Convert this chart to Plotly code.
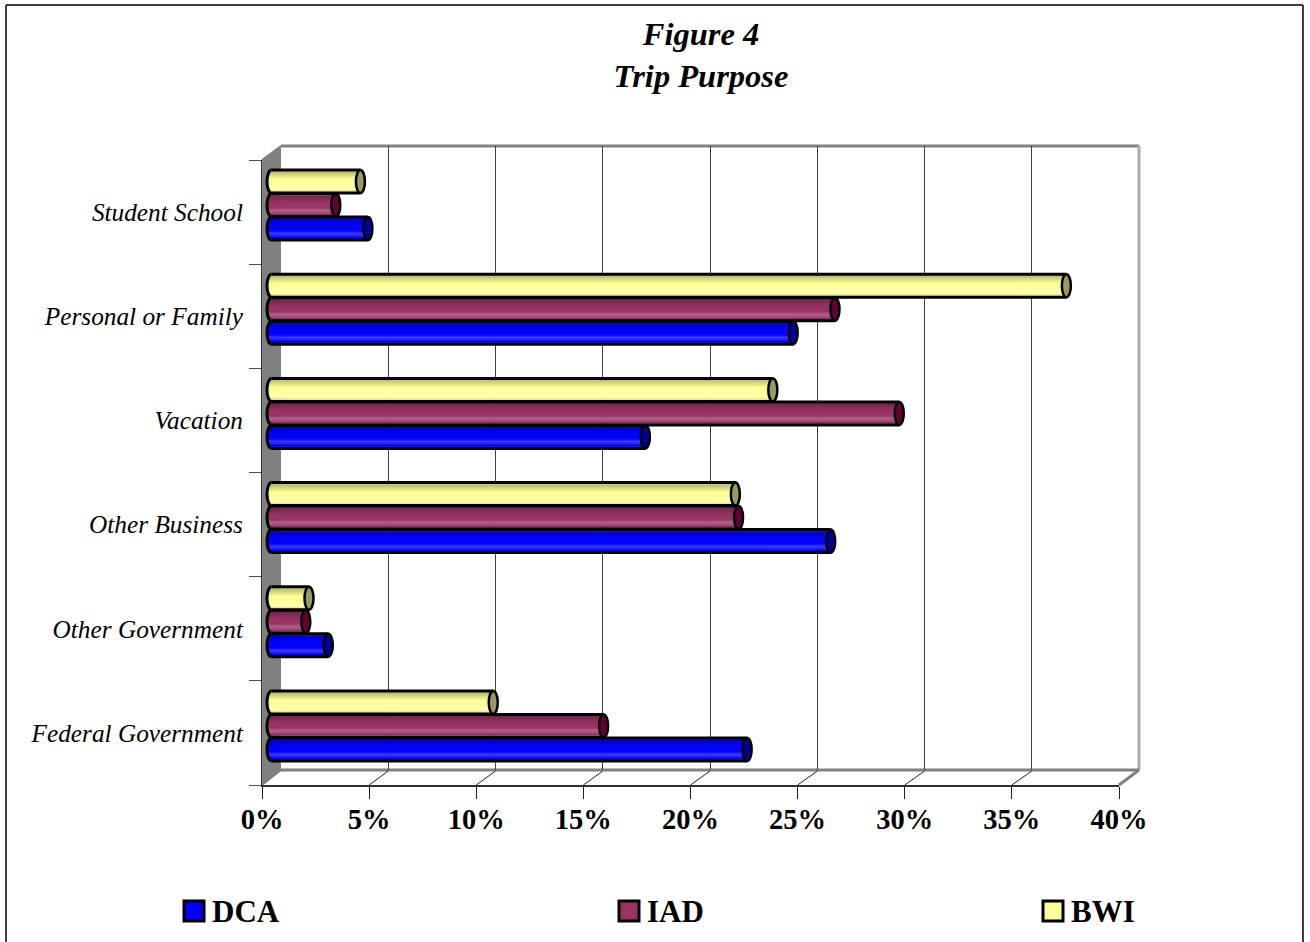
import math
import plotly.graph_objects as go

# Survey shares by airport, in percent
categories = ["Federal Government", "Other Government", "Other Business",
              "Vacation", "Personal or Family", "Student School"]
dca = [22.2, 2.65, 26.1, 17.45, 24.35, 4.5]
iad = [15.5, 1.6, 21.8, 29.3, 26.3, 3.0]
bwi = [10.35, 1.75, 21.65, 23.4, 37.1, 4.15]
x_ticks = [0, 5, 10, 15, 20, 25, 30, 35, 40]
x_tick_labels = ["0%", "5%", "10%", "15%", "20%", "25%", "30%", "35%", "40%"]

W, H = 1310, 942
SERIF = "Liberation Serif, Times New Roman, serif"

# Pixel frames of the pseudo-3D box: back wall, cylinder mid-plane, front edge
FRONT = dict(l=262, r=1119, t=160, b=785)
BACK = dict(l=281, r=1139, t=146, b=770)
MID = dict(l=271.5, r=1128.5, t=153, b=778)

PX_PER_PCT = (MID["r"] - MID["l"]) / 40
PX_PER_CAT = (MID["b"] - MID["t"]) / 6
CAP_RX = 4.5
CAP_RY = 13
OUTLINE = 3

# The cylinder axis runs a little past 0 and 40 so the rounded ends are not clipped
MID_PAD = 1.0
MID_WIDE = dict(l=MID["l"] - MID_PAD * PX_PER_PCT, r=MID["r"] + MID_PAD * PX_PER_PCT,
                t=MID["t"], b=MID["b"])


def fx(px):
    return px / W


def fy(px):
    return 1 - px / H


def dom_x(box):
    return [fx(box["l"]), fx(box["r"])]


def dom_y(box):
    return [fy(box["b"]), fy(box["t"])]


def mix(rgb, target, amount):
    return tuple(c + (t - c) * amount for c, t in zip(rgb, target))


def css(rgb):
    return "rgb(%d,%d,%d)" % tuple(round(c) for c in rgb)


def shade(rgb, t):
    """Cylinder lighting across the bar, t=0 at the top edge, t=1 at the bottom."""
    if t < 0.08:
        return mix(rgb, (0, 0, 0), 0.08)
    if t < 0.25:
        return mix(rgb, (255, 255, 255), 0.22 * t / 0.25)
    if t < 0.38:
        return mix(rgb, (255, 255, 255), 0.22 * (0.38 - t) / 0.13)
    if t < 0.6:
        return rgb
    return mix(rgb, (0, 0, 0), 0.28 * (t - 0.6) / 0.4)


series = [
    ("DCA", dca, (0, 0, 255), "#000099", -23.5),
    ("IAD", iad, (153, 51, 102), "#660033", 0.0),
    ("BWI", bwi, (255, 255, 153), "#999966", 23.5),
]

fig = go.Figure()

# Subplot xy holds the back wall grid so the cylinders paint over it
fig.add_trace(go.Scatter(x=[0], y=[categories[0]], xaxis="x", yaxis="y",
                         mode="markers", marker=dict(opacity=0),
                         hoverinfo="skip", showlegend=False))
fig.add_trace(go.Scatter(x=[0], y=[categories[0]], xaxis="x3", yaxis="y3",
                         mode="markers", marker=dict(opacity=0),
                         hoverinfo="skip", showlegend=False))

shapes = []

# Side wall, floor and back frame of the box
GREY = "#808080"
shapes.append(dict(type="path", xref="paper", yref="paper", layer="below",
                   path="M %f,%f L %f,%f L %f,%f L %f,%f Z" % (
                       fx(FRONT["l"]), fy(FRONT["t"]), fx(BACK["l"]), fy(BACK["t"]),
                       fx(BACK["l"]), fy(BACK["b"]), fx(FRONT["l"]), fy(FRONT["b"])),
                   fillcolor=GREY, line=dict(width=0)))


def paper_line(x0, y0, x1, y1, color, width, layer="below"):
    shapes.append(dict(type="line", xref="paper", yref="paper", layer=layer,
                       x0=fx(x0), y0=fy(y0), x1=fx(x1), y1=fy(y1),
                       line=dict(color=color, width=width)))


paper_line(BACK["l"], BACK["t"], BACK["r"], BACK["t"], GREY, 3)
paper_line(BACK["r"], BACK["t"], BACK["r"], BACK["b"], "#ABABAB", 3)
paper_line(BACK["l"], BACK["b"], BACK["r"], BACK["b"], GREY, 3)
paper_line(FRONT["l"], FRONT["t"], BACK["l"], BACK["t"], GREY, 2)
paper_line(FRONT["r"], FRONT["b"], BACK["r"], BACK["b"], GREY, 3)
paper_line(FRONT["l"], FRONT["b"], BACK["l"], BACK["b"], GREY, 2)
for tick in x_ticks[1:-1]:
    x_front = FRONT["l"] + (FRONT["r"] - FRONT["l"]) * tick / 40
    x_back = BACK["l"] + (BACK["r"] - BACK["l"]) * tick / 40
    paper_line(x_front, FRONT["b"], x_back, BACK["b"] + 1, "#202020", 1)

# Cylinders: thin overlaid bars give the lighting, ellipses close the ends
inner = CAP_RY - OUTLINE
rows = list(range(int(-inner), int(inner)))
for name, values, rgb, cap_color, offset_px in series:
    for row in rows:
        top_px = offset_px + row
        t = (row + inner) / (2 * inner)
        mid_row = (row + 0.5) / CAP_RY
        inset = CAP_RX * math.sqrt(max(0.0, 1 - mid_row ** 2)) / PX_PER_PCT
        fig.add_trace(go.Bar(
            orientation="h", y=categories, x=[v + inset for v in values],
            base=[-inset] * len(values), xaxis="x2", yaxis="y2",
            offset=top_px / PX_PER_CAT, width=1 / PX_PER_CAT,
            marker=dict(color=css(shade(rgb, t)), line=dict(width=0)), opacity=0.9,
            hoverinfo="skip", showlegend=False, name=name))
    for edge_px in (-CAP_RY, CAP_RY - OUTLINE):
        fig.add_trace(go.Bar(
            orientation="h", y=categories, x=values, xaxis="x2", yaxis="y2",
            offset=(offset_px + edge_px) / PX_PER_CAT, width=OUTLINE / PX_PER_CAT,
            marker=dict(color="black", line=dict(width=0)),
            hoverinfo="skip", showlegend=False, name=name))
    k = 0.5523
    left_arc = ("M 0,{h} C {a},{h} {r},{b} {r},0 C {r},{c} {a},{d} 0,{d}").format(
        h=CAP_RY - 1.5, d=-(CAP_RY - 1.5), a=-k * CAP_RX, r=-CAP_RX,
        b=k * (CAP_RY - 1.5), c=-k * (CAP_RY - 1.5))
    for i, value in enumerate(values):
        centre = i + offset_px / PX_PER_CAT
        shapes.append(dict(type="path", xref="x2", yref="y2", layer="above",
                           xsizemode="pixel", ysizemode="pixel",
                           xanchor=0, yanchor=centre, path=left_arc,
                           line=dict(color="black", width=OUTLINE)))
        shapes.append(dict(type="circle", xref="x2", yref="y2", layer="above",
                           xsizemode="pixel", ysizemode="pixel",
                           xanchor=value, yanchor=centre,
                           x0=-CAP_RX, x1=CAP_RX, y0=-(CAP_RY - 1.5), y1=CAP_RY - 1.5,
                           fillcolor=cap_color, line=dict(color="black", width=2.5)))

# Outer frame, open at the bottom
paper_line(6, 942, 6, 5, "black", 1.5, "above")
paper_line(6, 5, 1303, 5, "black", 1.5, "above")
paper_line(1303, 5, 1303, 942, "black", 1.5, "above")

# Key along the bottom of the page
annotations = []
key_pos = [183, 618, 1042]
for (name, values, rgb, cap_color, offset_px), key_x in zip(series, key_pos):
    shapes.append(dict(type="rect", xref="paper", yref="paper", layer="above",
                       x0=fx(key_x + 1), x1=fx(key_x + 21), y0=fy(921), y1=fy(901),
                       fillcolor=css(rgb), line=dict(color="black", width=3)))
    annotations.append(dict(xref="paper", yref="paper", x=fx(key_x + 27), y=fy(911),
                            xanchor="left", yanchor="middle", text="<b>%s</b>" % name,
                            showarrow=False, font=dict(family=SERIF, size=31, color="black")))

fig.update_layout(
    template="none",
    width=W, height=H, autosize=False,
    margin=dict(l=0, r=0, t=0, b=0),
    paper_bgcolor="white", plot_bgcolor="rgba(0,0,0,0)",
    barmode="overlay", showlegend=False, shapes=shapes, annotations=annotations,
    title=dict(text="<b><i>Figure 4<br>Trip Purpose</i></b>",
               x=fx(701), xanchor="center", y=fy(45), yanchor="middle",
               font=dict(family=SERIF, size=32.5, color="black")),
    # Back wall grid
    xaxis=dict(domain=dom_x(BACK), range=[0, 40], tickvals=x_ticks, showticklabels=False,
               showgrid=True, gridcolor="#404040", gridwidth=1, zeroline=False, automargin=False,
               ticks="", anchor="y", fixedrange=True),
    yaxis=dict(domain=dom_y(BACK), type="category", categoryarray=categories,
               categoryorder="array", range=[-0.5, 5.5], visible=False, automargin=False,
               anchor="x", fixedrange=True),
    # Cylinder mid-plane
    xaxis2=dict(domain=dom_x(MID_WIDE), range=[-MID_PAD, 40 + MID_PAD], visible=False,
                automargin=False, anchor="y2", fixedrange=True),
    yaxis2=dict(domain=dom_y(MID_WIDE), type="category", categoryarray=categories,
                categoryorder="array", range=[-0.5, 5.5], visible=False, automargin=False,
                anchor="x2", fixedrange=True),
    # Front edge with the visible ticks and labels
    xaxis3=dict(domain=dom_x(FRONT), range=[0, 40], tickvals=x_ticks, ticktext=x_tick_labels,
                showgrid=False, zeroline=False, showline=True, linecolor="#303030", linewidth=2,
                ticks="outside", ticklen=12, tickwidth=1, tickcolor="#202020", automargin=False,
                ticklabelstandoff=-4,
                tickfont=dict(family=SERIF, size=28.5, color="black", weight="bold"),
                anchor="y3", fixedrange=True),
    yaxis3=dict(domain=dom_y(FRONT), type="category", categoryarray=categories,
                categoryorder="array", range=[-0.5, 5.5], tickson="boundaries",
                showgrid=False, zeroline=False, showline=True, linecolor="#303030", linewidth=1,
                ticks="outside", ticklen=12, tickwidth=1, tickcolor="#505050", automargin=False,
                ticklabelstandoff=13,
                tickfont=dict(family=SERIF, size=25.3, color="black", style="italic"),
                anchor="x3", fixedrange=True),
)

fig.write_html("out.html", config=dict(displayModeBar=False))
